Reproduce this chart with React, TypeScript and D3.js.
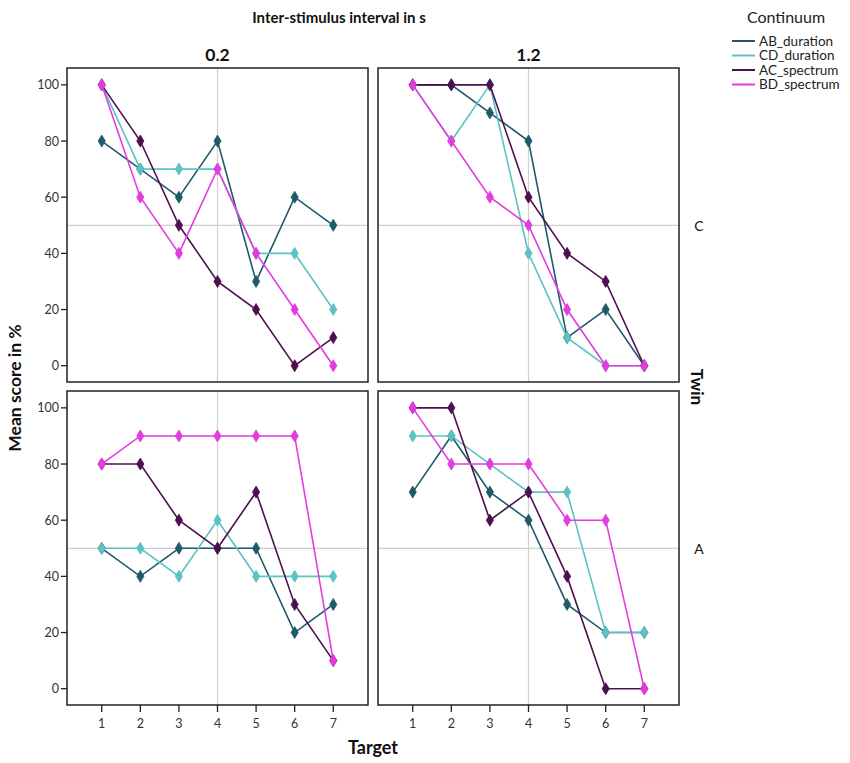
import * as d3 from 'd3';
import React from 'react';

const targets = [1, 2, 3, 4, 5, 6, 7];
const intervals = ['0.2', '1.2'];
const twins = ['C', 'A'];
const seriesNames = ['AB_duration', 'CD_duration', 'AC_spectrum', 'BD_spectrum'];
const seriesColors = ['#1e5a6a', '#5cc2c4', '#4d0f4f', '#e43be0'];

// values per panel: [twin][interval][series]
const cShort = [
  [80, 70, 60, 80, 30, 60, 50],
  [100, 70, 70, 70, 40, 40, 20],
  [100, 80, 50, 30, 20, 0, 10],
  [100, 60, 40, 70, 40, 20, 0],
];
const cLong = [
  [100, 100, 90, 80, 10, 20, 0],
  [100, 80, 100, 40, 10, 0, 0],
  [100, 100, 100, 60, 40, 30, 0],
  [100, 80, 60, 50, 20, 0, 0],
];
const aShort = [
  [50, 40, 50, 50, 50, 20, 30],
  [50, 50, 40, 60, 40, 40, 40],
  [80, 80, 60, 50, 70, 30, 10],
  [80, 90, 90, 90, 90, 90, 10],
];
const aLong = [
  [70, 90, 70, 60, 30, 20, 20],
  [90, 90, 80, 70, 70, 20, 20],
  [100, 100, 60, 70, 40, 0, 0],
  [100, 80, 80, 80, 60, 60, 0],
];
const panels = [
  [cShort, cLong],
  [aShort, aLong],
];
const yTicks = [0, 20, 40, 60, 80, 100];

const colX = [67, 378];
const rowY = [68, 391];
const pw = 301;
const ph = 314;

const font = 'Lato, "Open Sans", sans-serif';

const Diamond = ({ x, y, color }: { x: number; y: number; color: string }) => (
  <path
    d={`M${x},${y - 6}L${x + 3.6},${y}L${x},${y + 6}L${x - 3.6},${y}Z`}
    fill={color}
    stroke={color}
    strokeWidth={0.8}
  />
);

const App = () => {
  const x = d3.scaleLinear().domain([0.1, 7.9]).range([0, pw]);
  const y = d3.scaleLinear().domain([-5.8, 106]).range([ph, 0]);
  const line = d3
    .line<number>()
    .x((_, i) => x(targets[i]))
    .y((d) => y(d));

  return (
    <svg width={850} height={763} style={{ position: 'absolute', left: 0, top: 0, fontFamily: font }}>
      <rect width={850} height={763} fill="#fff" />
      <text x={339} y={23} textAnchor="middle" fontSize={15} fontWeight="bold" fill="#111">
        Inter-stimulus interval in s
      </text>
      {intervals.map((t, c) => (
        <text key={t} x={colX[c] + pw / 2} y={61} textAnchor="middle" fontSize={17.5} fontWeight="bold" fill="#111">
          {t}
        </text>
      ))}
      {twins.map((t, r) => (
        <text key={t} x={699} y={rowY[r] + y(50) + 6} textAnchor="middle" fontSize={14} fill="#111">
          {t}
        </text>
      ))}
      <text transform="translate(691,387) rotate(90)" textAnchor="middle" fontSize={17} fontWeight="bold" fill="#111">
        Twin
      </text>
      <text transform="translate(21,388) rotate(-90)" textAnchor="middle" fontSize={17.5} fontWeight="bold" fill="#111">
        Mean score in %
      </text>
      <text x={373} y={754} textAnchor="middle" fontSize={18} fontWeight="bold" fill="#111">
        Target
      </text>

      {/* legend */}
      <text x={786} y={23} textAnchor="middle" fontSize={16} fill="#222">
        Continuum
      </text>
      {seriesNames.map((s, i) => (
        <g key={s} transform={`translate(732,${41 + i * 14.5})`}>
          <line x1={0} x2={23} y1={0} y2={0} stroke={seriesColors[i]} strokeWidth={2} />
          <text x={27} y={4.5} fontSize={13.5} fill="#222">
            {s}
          </text>
        </g>
      ))}

      {panels.map((row, r) =>
        row.map((data, c) => (
          <g key={`${r}-${c}`} transform={`translate(${colX[c]},${rowY[r]})`}>
            <line x1={0} x2={pw} y1={y(50)} y2={y(50)} stroke="#d0d0d0" strokeWidth={1.2} />
            <line x1={x(4)} x2={x(4)} y1={0} y2={ph} stroke="#d0d0d0" strokeWidth={1.2} />
            {data.map((vals, si) => (
              <path key={si} d={line(vals) ?? ''} fill="none" stroke={seriesColors[si]} strokeWidth={1.6} />
            ))}
            {data.map((vals, si) =>
              vals.map((v, i) => <Diamond key={`${si}-${i}`} x={x(targets[i])} y={y(v)} color={seriesColors[si]} />)
            )}
            <rect x={0} y={0} width={pw} height={ph} fill="none" stroke="#222" strokeWidth={1.5} />
            {c === 0 &&
              yTicks.map((t) => (
                <g key={t} transform={`translate(0,${y(t)})`}>
                  <line x1={-6} x2={0} stroke="#222" strokeWidth={1.3} />
                  <text x={-8} y={4.5} textAnchor="end" fontSize={12.5} fill="#333">
                    {t}
                  </text>
                </g>
              ))}
            {r === 1 &&
              targets.map((t) => (
                <g key={t} transform={`translate(${x(t)},${ph})`}>
                  <line y1={0} y2={7} stroke="#222" strokeWidth={1.3} />
                  <text y={23} textAnchor="middle" fontSize={12.5} fill="#333">
                    {t}
                  </text>
                </g>
              ))}
          </g>
        ))
      )}
    </svg>
  );
};

export default App;
